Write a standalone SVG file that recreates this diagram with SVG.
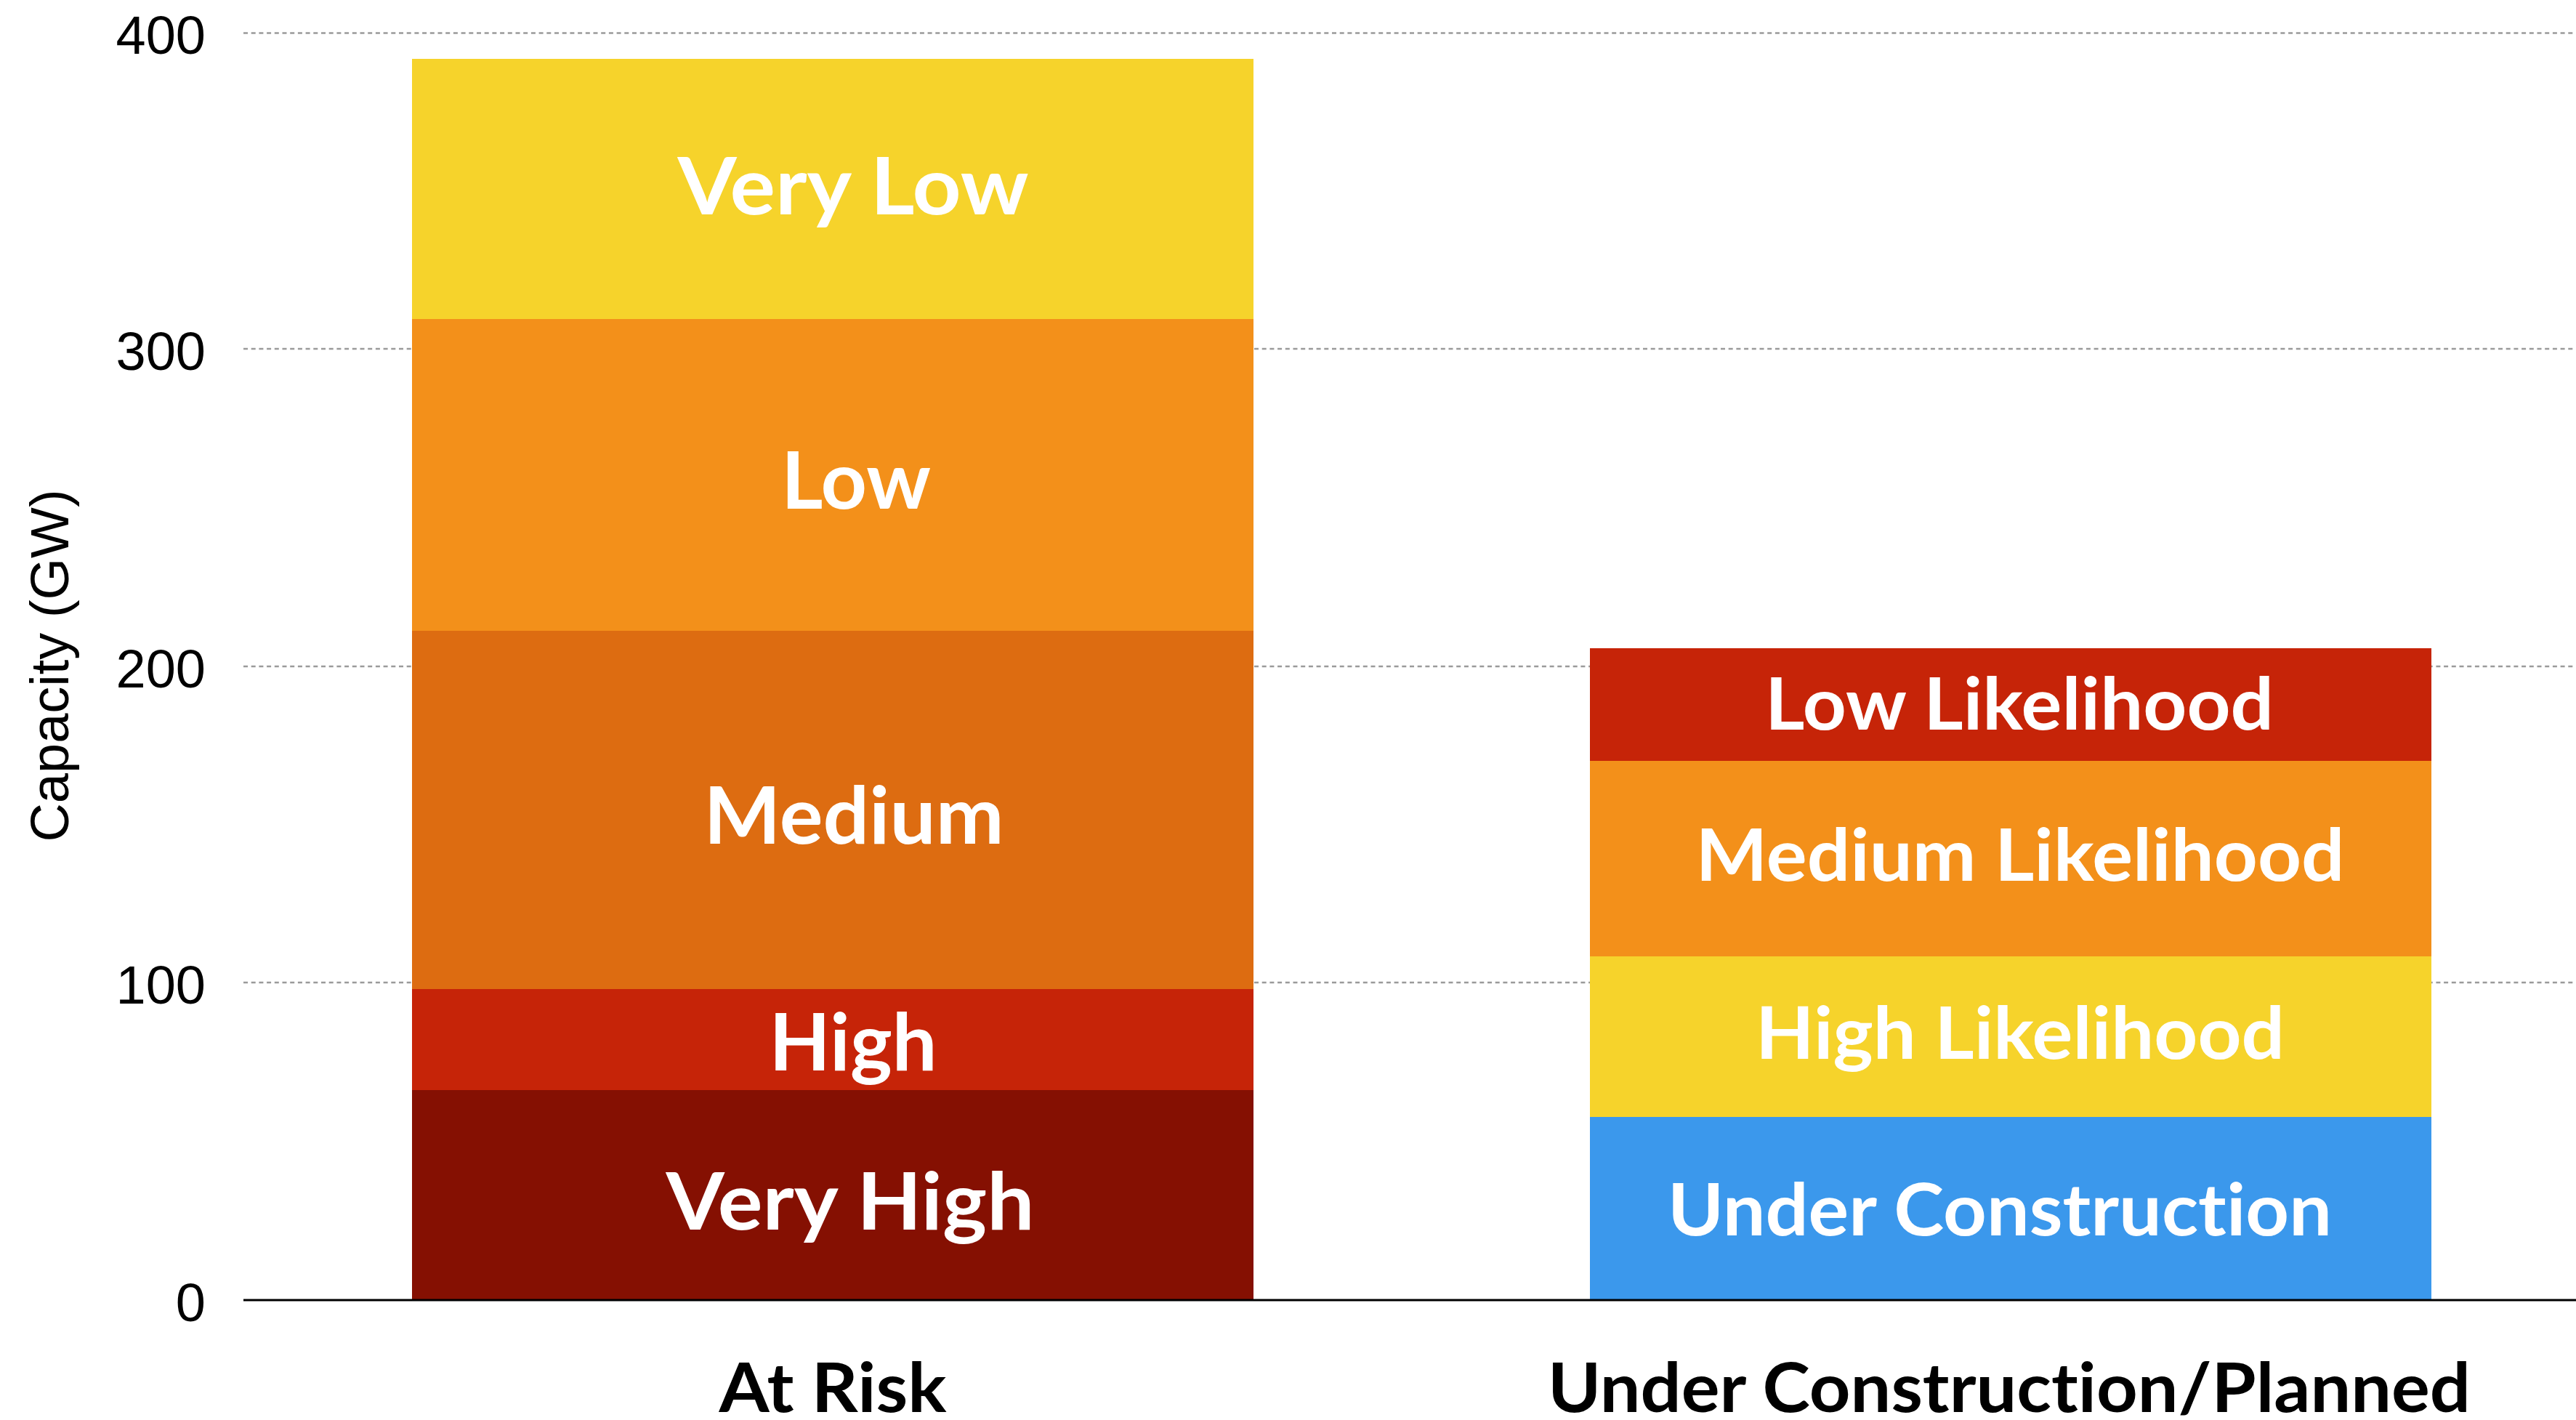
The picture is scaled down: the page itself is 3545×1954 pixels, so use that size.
<svg xmlns="http://www.w3.org/2000/svg" width="3545" height="1954" viewBox="0 0 3545 1954">
<style>
.grid{stroke:#9a9a9a;stroke-width:2.5;stroke-dasharray:6 4.7;fill:none}
.axis{stroke:#000;stroke-width:3;fill:none}
.tick{font-family:"Liberation Sans",Arial,sans-serif;font-size:74px;fill:#000;text-anchor:end}
.ytitle{font-family:"Liberation Sans",Arial,sans-serif;font-size:74px;fill:#000;text-anchor:middle}
.lbl1{font-family:Lato,"Liberation Sans",sans-serif;font-weight:700;font-size:110px;fill:#fff;text-anchor:middle;font-variant-ligatures:none}
.lbl2{font-family:Lato,"Liberation Sans",sans-serif;font-weight:700;font-size:100px;fill:#fff;text-anchor:middle;font-variant-ligatures:none}
.cat{font-family:Lato,"Liberation Sans",sans-serif;font-weight:700;font-size:94px;fill:#000;text-anchor:middle;font-variant-ligatures:none}
.yellow{fill:#F6D32B}.orange{fill:#F3901A}.dorange{fill:#DD6C11}.red{fill:#C62408}.dred{fill:#851002}.blue{fill:#3B98EC}
</style>
<rect width="3545" height="1954" fill="#fff"/>
<g id="gridlines">
<line class="grid" x1="335" y1="45.5" x2="3545" y2="45.5"/>
<line class="grid" x1="335" y1="480" x2="3545" y2="480"/>
<line class="grid" x1="335" y1="917" x2="3545" y2="917"/>
<line class="grid" x1="335" y1="1352" x2="3545" y2="1352"/>
</g>
<g id="y-axis-labels">
<text class="tick" x="283" y="74">400</text>
<text class="tick" x="283" y="509">300</text>
<text class="tick" x="283" y="946">200</text>
<text class="tick" x="283" y="1381">100</text>
<text class="tick" x="283" y="1818">0</text>
<text class="ytitle" transform="translate(94,916) rotate(-90)">Capacity (GW)</text>
</g>
<g id="bar-at-risk">
<g id="very-low"><rect class="yellow" x="567" y="81" width="1158" height="358"/><text class="lbl1" x="1174" y="295" textLength="483" lengthAdjust="spacingAndGlyphs">Very Low</text></g>
<g id="low"><rect class="orange" x="567" y="439" width="1158" height="429"/><text class="lbl1" x="1178" y="700" textLength="206" lengthAdjust="spacingAndGlyphs">Low</text></g>
<g id="medium"><rect class="dorange" x="567" y="868" width="1158" height="493"/><text class="lbl1" x="1175" y="1161" textLength="413" lengthAdjust="spacingAndGlyphs">Medium</text></g>
<g id="high"><rect class="red" x="567" y="1361" width="1158" height="139"/><text class="lbl1" x="1174" y="1473" textLength="231" lengthAdjust="spacingAndGlyphs">High</text></g>
<g id="very-high"><rect class="dred" x="567" y="1500" width="1158" height="289"/><text class="lbl1" x="1170" y="1692" textLength="507" lengthAdjust="spacingAndGlyphs">Very High</text></g>
</g>
<g id="bar-planned">
<g id="low-likelihood"><rect class="red" x="2188" y="892" width="1158" height="155"/><text class="lbl2" x="2779" y="1004" textLength="700" lengthAdjust="spacingAndGlyphs">Low Likelihood</text></g>
<g id="medium-likelihood"><rect class="orange" x="2188" y="1047" width="1158" height="269"/><text class="lbl2" x="2780" y="1212" textLength="893" lengthAdjust="spacingAndGlyphs">Medium Likelihood</text></g>
<g id="high-likelihood"><rect class="yellow" x="2188" y="1316" width="1158" height="221"/><text class="lbl2" x="2780" y="1457" textLength="728" lengthAdjust="spacingAndGlyphs">High Likelihood</text></g>
<g id="under-construction"><rect class="blue" x="2188" y="1537" width="1158" height="252"/><text class="lbl2" x="2752" y="1700" textLength="914" lengthAdjust="spacingAndGlyphs">Under Construction</text></g>
</g>
<g id="x-axis">
<line class="axis" x1="335" y1="1789" x2="3545" y2="1789"/>
<text class="cat" x="1146" y="1943" textLength="313" lengthAdjust="spacingAndGlyphs">At Risk</text>
<text class="cat" x="2765" y="1943" textLength="1270" lengthAdjust="spacingAndGlyphs">Under Construction/Planned</text>
</g>
</svg>
